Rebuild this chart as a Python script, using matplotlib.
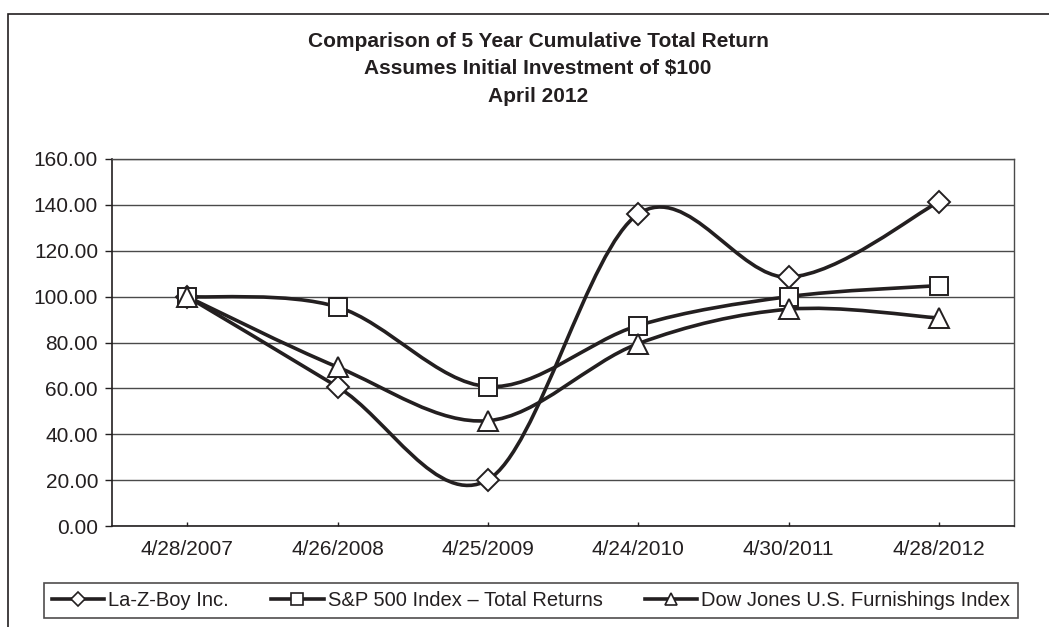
import matplotlib
matplotlib.use("Agg")
import matplotlib.pyplot as plt
from matplotlib.path import Path
from matplotlib.patches import PathPatch, Rectangle
from matplotlib.lines import Line2D

plt.rcParams['font.family'] = ['Liberation Sans', 'DejaVu Sans']

# dados
datas = ['4/28/2007', '4/26/2008', '4/25/2009', '4/24/2010', '4/30/2011', '4/28/2012']
lazboy = [100.0, 60.7, 20.1, 136.0, 108.5, 141.3]
sp500 = [100.0, 95.5, 60.8, 87.4, 100.0, 104.8]
dowjones = [100.0, 69.3, 45.9, 79.5, 94.5, 90.7]

series = [
    ('La-Z-Boy Inc.', lazboy, 'D', 11),
    ('S&P 500 Index \u2013 Total Returns', sp500, 's', 13),
    ('Dow Jones U.S. Furnishings Index', dowjones, '^', 14),
]

titulo = ['Comparison of 5 Year Cumulative Total Return',
          'Assumes Initial Investment of $100',
          'April 2012']

COR = '#231f20'


# curva suavizada no estilo do Excel (Catmull-Rom em Bezier)
def curva_suave(xs, ys):
    pts = list(zip(xs, ys))
    n = len(pts)
    verts = [pts[0]]
    codes = [Path.MOVETO]
    for i in range(n - 1):
        p0 = pts[max(i - 1, 0)]
        p1 = pts[i]
        p2 = pts[i + 1]
        p3 = pts[min(i + 2, n - 1)]
        c1 = (p1[0] + (p2[0] - p0[0]) / 6, p1[1] + (p2[1] - p0[1]) / 6)
        c2 = (p2[0] - (p3[0] - p1[0]) / 6, p2[1] - (p3[1] - p1[1]) / 6)
        verts += [c1, c2, p2]
        codes += [Path.CURVE4] * 3
    return Path(verts, codes)


fig = plt.figure(figsize=(10.49, 6.27), dpi=100)
ax = fig.add_axes([112 / 1049, 1 - 526 / 627, 902 / 1049, 367 / 627])

x = list(range(len(datas)))
handles = []
for nome, valores, marcador, tam in series:
    ax.add_patch(PathPatch(curva_suave(x, valores), fill=False, edgecolor=COR,
                           linewidth=2.6, zorder=3, capstyle='round'))
    ax.plot(x, valores, linestyle='none', marker=marcador, markersize=tam,
            markerfacecolor='white', markeredgecolor=COR, markeredgewidth=1.4, zorder=4)
    handles.append(Line2D([], [], color=COR, linewidth=2.6, marker=marcador,
                          markersize=tam * 0.62, markerfacecolor='white',
                          markeredgecolor=COR, markeredgewidth=1.2, label=nome))

ax.set_xlim(-0.5, len(datas) - 0.5)
ax.set_ylim(0, 160)
ax.set_yticks(range(0, 161, 20))
ax.set_yticklabels([f'{v:.2f}' for v in range(0, 161, 20)])
ax.set_xticks(x)
ax.set_xticklabels(datas)
ax.yaxis.grid(True, color='#4a4a4a', linewidth=1.0)
ax.set_axisbelow(True)
ax.tick_params(axis='y', direction='out', length=5, width=1, pad=5, labelsize=15, colors=COR)
ax.tick_params(axis='x', direction='in', length=3, width=1, pad=10, labelsize=15, colors=COR)
for lado in ['top', 'right']:
    ax.spines[lado].set_color('#4a4a4a')
    ax.spines[lado].set_linewidth(1.0)
for lado in ['left', 'bottom']:
    ax.spines[lado].set_color(COR)
    ax.spines[lado].set_linewidth(1.2)

# titulo em tres linhas
for i, linha in enumerate(titulo):
    fig.text(538 / 1049, 1 - (47 + 27.5 * i) / 627, linha, ha='center', va='baseline',
             fontsize=15, fontweight='bold', color=COR)

leg = fig.legend(handles=handles, loc='center', bbox_to_anchor=(531 / 1049, 1 - 600.3 / 627),
                 ncol=3, fontsize=14.5, frameon=True, fancybox=False, handlelength=2.6,
                 handletextpad=0.2, columnspacing=2.1, borderpad=0.4)
leg.get_frame().set_edgecolor(COR)
leg.get_frame().set_linewidth(1.2)
for t in leg.get_texts():
    t.set_color(COR)

# moldura externa
fig.patches.append(Rectangle((8 / 1049, -0.05), 1.1, 1 - 14 / 627 + 0.05,
                             transform=fig.transFigure, fill=False,
                             edgecolor=COR, linewidth=1.2))

fig.savefig('out.png', dpi=100)
